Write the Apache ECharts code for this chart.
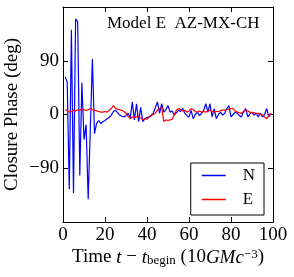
<!DOCTYPE html>
<html>
<head>
<meta charset="utf-8">
<script src="https://cdn.jsdelivr.net/npm/echarts@6/dist/echarts.min.js"></script>
<style>html,body{margin:0;padding:0;background:#fff;}#c{width:294px;height:277px;}</style>
</head>
<body>
<div id="c"></div>
<script>
var times = [1,2,3,4,5,6,7,8,9,10,11,12,13,14,15,16,17,18,19,20,21,22,23,24,25,26,27,28,29,30,31,32,33,34,35,36,37,38,39,40,41,42,43,44,45,46,47,48,49,50,51,52,53,54,55,56,57,58,59,60,61,62,63,64,65,66,67,68,69,70,71,72,73,74,75,76,77,78,79,80,81,82,83,84,85,86,87,88,89,90,91,92,93,94,95,96,97,98,99];
var seriesN = [63,55,-125,142,-132,160,155,-102,53,-42,
  -17,-142,-25,93,-32,-15,-10,-15,-12,-10,
  -7,-5,-1,5,7,3,-1,-3,-4,-2,
  2,-6,21,-9,18,-12,12,-12,-7,-5,
  -4,-1,2,12,21,2,18,4,8,15,
  4,6,-1,3,7,5,10,2,-2,-4,
  7,-7,0,4,-2,2,7,18,4,18,
  -4,10,-7,0,4,-1,2,10,15,-4,
  0,4,2,-2,-4,5,10,-4,1,4,
  -1,2,-4,2,-4,0,10,-4,2];
var seriesE = [8,7,4,5,7,6,8,7,9,8,
  7,8,10,8,7,6,5,4,4,5,
  4,7,10,15,10,9,8,7,5,2,
  -3,-7,-4,-5,-4,-3,-6,-9,-7,-8,
  -4,-2,0,2,8,10,12,-12,-9,-10,
  -9,-8,0,7,10,8,6,7,4,6,
  10,8,5,4,6,4,5,4,6,7,
  5,4,5,5,6,8,7,8,9,10,
  10,6,4,3,2,5,7,6,4,3,
  3,2,2,0,-1,-4,-7,-2,2];
var seriesNames = ['N','E'];
var xTicks = [0,20,40,60,80,100];
var yTicks = [-90,0,90];
var titleText = 'Model E  AZ-MX-CH';

function pairs(vals){ return vals.map(function(v,i){ return [times[i], v]; }); }

var FF = 'Liberation Serif';
var chart = echarts.init(document.getElementById('c'), null, {renderer:'canvas'});
var axisLineStyle = {show:true, onZero:false, lineStyle:{color:'#000', width:1}};
var tickStyle = {show:true, inside:true, length:5, lineStyle:{color:'#000', width:1}};
chart.setOption({
  animation:false,
  backgroundColor:'#fff',
  title:{text:titleText, left:102, top:10, textStyle:{fontFamily:FF, fontSize:17, fontWeight:'normal', color:'#000'}},
  legend:{
    data:[{name:seriesNames[0], icon:'rect'},{name:seriesNames[1], icon:'rect'}],
    orient:'vertical', right:30, top:163,
    padding:[4,9,7,11], itemWidth:24, itemHeight:1.5, itemGap:7,
    borderColor:'#000', borderWidth:1, backgroundColor:'#fff',
    textStyle:{fontFamily:FF, fontSize:17, color:'#000', lineHeight:17, padding:[0,0,0,12]}
  },
  grid:{left:63, right:21, top:7, bottom:55, containLabel:false, outerBoundsMode:'none'},
  xAxis:[{
    type:'value', min:0, max:100, interval:20, position:'bottom',
    axisLine:axisLineStyle, axisTick:tickStyle, splitLine:{show:false},
    axisLabel:{fontFamily:FF, fontSize:19, color:'#000', margin:4,
      formatter:function(v){ return xTicks.indexOf(v)>=0 ? String(v) : ''; }},
    name:'{n|Time }{i|t}{n| \u2212 }{i|t}{s|begin}{n| (10}{i|GMc}{p|\u22123}{n|)}',
    nameLocation:'middle', nameGap:26, nameMoveOverlap:false,
    nameTextStyle:{fontFamily:FF, fontSize:19, color:'#000',
      rich:{
        n:{fontFamily:FF, fontSize:19, color:'#000', lineHeight:19},
        i:{fontFamily:FF, fontSize:19, color:'#000', fontStyle:'italic', lineHeight:19},
        s:{fontFamily:FF, fontSize:13, color:'#000', lineHeight:13, padding:[12,0,0,0], verticalAlign:'bottom'},
        p:{fontFamily:FF, fontSize:13, color:'#000', lineHeight:13, padding:[0,0,12,0], verticalAlign:'top'}
      }}
  },{
    type:'value', min:0, max:100, interval:20, position:'top',
    axisLine:axisLineStyle, axisTick:tickStyle, splitLine:{show:false}, axisLabel:{show:false}
  }],
  yAxis:[{
    type:'value', min:-180, max:180, interval:90, position:'left',
    axisLine:axisLineStyle, axisTick:tickStyle, splitLine:{show:false},
    axisLabel:{fontFamily:FF, fontSize:19, color:'#000', margin:4,
      formatter:function(v){ return yTicks.indexOf(v)>=0 ? String(v).replace('-','\u2212') : ''; }},
    name:'Closure Phase (deg)', nameLocation:'middle', nameGap:41, nameMoveOverlap:false,
    nameTextStyle:{fontFamily:FF, fontSize:19, color:'#000'}
  },{
    type:'value', min:-180, max:180, interval:90, position:'right',
    axisLine:axisLineStyle, axisTick:tickStyle, splitLine:{show:false}, axisLabel:{show:false}
  }],
  series:[
    {name:seriesNames[0], type:'line', data:pairs(seriesN), symbol:'none', lineStyle:{color:'#0000ff', width:1.2}, itemStyle:{color:'#0000ff'}},
    {name:seriesNames[1], type:'line', data:pairs(seriesE), symbol:'none', lineStyle:{color:'#ff0000', width:1.2}, itemStyle:{color:'#ff0000'}}
  ]
});
</script>
</body>
</html>
